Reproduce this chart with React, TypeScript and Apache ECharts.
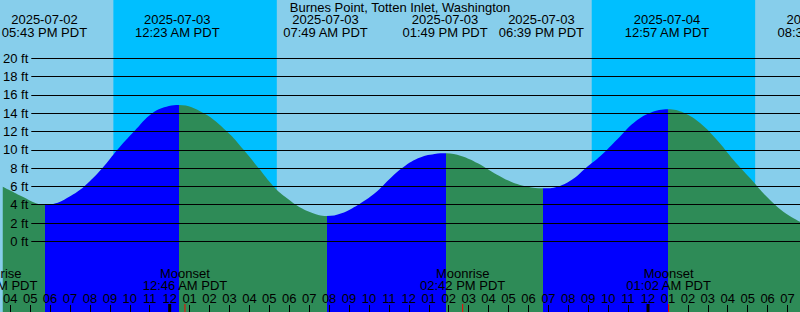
import React, { useEffect, useRef } from 'react';
import * as echarts from 'echarts';

const FONT = "'Liberation Sans', Arial, sans-serif";
const TITLE = 'Burnes Point, Totten Inlet, Washington';

const DAY = '#87CEEB';
const NIGHT = '#00BFFF';
const RISING = '#0000FF';
const FALLING = '#2E8B57';

// hours counted from 2025-07-02 00:00 PDT
const X_START = 15.625;
const X_END = 55.625;
const Y_TOP_FT = 26.372;
const Y_BOTTOM_FT = -7.727;

const tideHours = [15.625, 16.625, 17.29, 17.76,
  18.29, 18.96, 19.71, 20.625, 21.375, 22.21, 23.125, 23.96, 24.46,
  25.71, 26.875, 27.71, 28.46, 29.21, 29.79, 30.625, 31.46, 31.875,
  32.625, 33.46, 34.29, 35.125, 35.625, 36.46, 37.29, 37.875,
  38.625, 39.46, 40.29, 41.125, 41.96, 42.71,
  43.46, 44.29, 44.875, 45.625, 46.46, 47.29, 48.125, 49.01,
  49.79, 50.625, 51.46, 52.29, 53.125, 53.96, 54.79, 55.625];
const tideFeet = [5.97, 4.87, 4.15, 3.97,
  4.15, 4.87, 6.0, 8.0, 10.0, 12.0, 14.0, 14.79, 14.9,
  14.0, 12.0, 10.0, 8.0, 6.0, 4.87, 3.6, 2.87, 2.76,
  3.06, 4.0, 5.25, 7.0, 7.95, 9.07, 9.54, 9.62,
  9.32, 8.52, 7.43, 6.51, 5.97, 5.79,
  5.97, 6.89, 8.0, 9.35, 11.15, 12.96, 14.05, 14.43,
  14.05, 12.9, 11.07, 8.89, 6.89, 4.87, 3.24, 2.14];

const risingSpans = [[17.76, 24.46], [31.875, 37.875], [42.71, 49.01]];
const nightSpans = [[21.175, 29.375], [45.175, 53.375]];

const extremaHours = [17.717, 24.383, 31.817, 37.817, 42.65, 48.95, 56.617];
const extremaDates = ['2025-07-02', '2025-07-03', '2025-07-03', '2025-07-03', '2025-07-03', '2025-07-04', '2025-07-04'];
const extremaTimes = ['05:43 PM PDT', '12:23 AM PDT', '07:49 AM PDT', '01:49 PM PDT', '06:39 PM PDT', '12:57 AM PDT', '08:37 AM PDT'];

const moonHours = [15.225, 24.767, 38.7, 49.033];
const moonNames = ['Moonrise', 'Moonset', 'Moonrise', 'Moonset'];
const moonTimes = ['03:13 PM PDT', '12:46 AM PDT', '02:42 PM PDT', '01:02 AM PDT'];

const midnightHours = [24, 48];
const hourTicks = [16, 17, 18, 19, 20, 21, 22, 23, 24, 25, 26, 27, 28, 29, 30, 31, 32, 33, 34, 35,
  36, 37, 38, 39, 40, 41, 42, 43, 44, 45, 46, 47, 48, 49, 50, 51, 52, 53, 54, 55];

const markHour = [17.5];
const markFeet = [4];

function fmtHour(v: number) {
  const h = Math.round(v) % 12 || 12;
  return String(h).padStart(2, '0');
}

export default function App() {
  const ref = useRef<HTMLDivElement>(null);
  useEffect(() => {
    const chart = echarts.init(ref.current!, null, { renderer: 'svg' });
    const txt = { fill: '#000', fontSize: 13, fontFamily: FONT, align: 'center', verticalAlign: 'middle' };

    const pieces: any[] = [];
    let prev = X_START - 10;
    risingSpans.forEach(([a, b]) => {
      pieces.push({ gte: prev, lt: a, color: FALLING });
      pieces.push({ gte: a, lt: b, color: RISING });
      prev = b;
    });
    pieces.push({ gte: prev, lte: X_END + 10, color: FALLING });

    const option: any = {
      animation: false,
      backgroundColor: DAY,
      textStyle: { fontFamily: FONT },
      title: {
        text: TITLE, left: 'center', top: 1, padding: 0,
        textStyle: { fontSize: 13, lineHeight: 13, fontWeight: 'normal', color: '#000', fontFamily: FONT },
      },
      grid: [
        { left: 0, right: 0, top: 0, bottom: 0 },
        { left: 29.5, right: 0, top: 58.3, bottom: 70.7 },
      ],
      xAxis: [
        {
          type: 'value', gridIndex: 0, min: X_START, max: X_END, z: 5, position: 'bottom',
          axisLine: { show: false, onZero: false }, splitLine: { show: false },
          axisTick: { show: true, inside: true, length: 7, customValues: hourTicks, lineStyle: { color: '#000', width: 1 } },
          axisLabel: {
            show: true, inside: true, customValues: hourTicks, margin: 7, color: '#000',
            fontSize: 13, lineHeight: 13, fontFamily: FONT, formatter: fmtHour,
          },
        },
        {
          type: 'value', gridIndex: 1, min: X_START, max: X_END, show: false,
          axisLine: { show: false, onZero: false }, axisTick: { show: false }, axisLabel: { show: false }, splitLine: { show: false },
        },
      ],
      yAxis: [
        {
          type: 'value', gridIndex: 0, min: Y_BOTTOM_FT, max: Y_TOP_FT, show: false,
          axisLine: { show: false, onZero: false }, axisTick: { show: false }, axisLabel: { show: false }, splitLine: { show: false },
        },
        {
          type: 'value', gridIndex: 1, min: 0, max: 20, interval: 2, z: 3,
          axisLine: { show: false, onZero: false }, axisTick: { show: false },
          axisLabel: { color: '#000', fontSize: 13, fontFamily: FONT, margin: 3, formatter: '{value} ft' },
          splitLine: { show: true, lineStyle: { color: '#000', width: 1 } },
        },
      ],
      visualMap: {
        show: false, type: 'piecewise', dimension: 0, seriesIndex: 1, pieces,
      },
      series: [
        {
          type: 'custom', xAxisIndex: 0, yAxisIndex: 0, z: 1, silent: true,
          data: nightSpans.map(([a, b]) => [a, b]),
          renderItem: (params: any, api: any) => {
            const p0 = api.coord([api.value(0), Y_TOP_FT]);
            const p1 = api.coord([api.value(1), Y_BOTTOM_FT]);
            return { type: 'rect', shape: { x: p0[0], y: p0[1], width: p1[0] - p0[0], height: p1[1] - p0[1] }, style: { fill: NIGHT } };
          },
        },
        {
          type: 'line', xAxisIndex: 0, yAxisIndex: 0, z: 2, silent: true,
          data: tideHours.map((h, i) => [h, tideFeet[i]]),
          smooth: 0.4, showSymbol: false, symbol: 'none',
          lineStyle: { width: 0 },
          areaStyle: { opacity: 1, origin: 'start' },
        },
        {
          type: 'custom', xAxisIndex: 0, yAxisIndex: 0, z: 6, silent: true,
          data: [
            ...midnightHours.map((h) => [h, 0]),
            ...moonHours.map((h) => [h, 1]),
            ...markHour.map((h, i) => [h, 2, markFeet[i]]),
          ],
          renderItem: (params: any, api: any) => {
            const kind = api.value(1);
            if (kind === 2) {
              const p = api.coord([api.value(0), api.value(2)]);
              return { type: 'line', shape: { x1: p[0], y1: p[1] - 4, x2: p[0], y2: p[1] + 4 }, style: { stroke: '#000', lineWidth: 1 } };
            }
            const p = api.coord([api.value(0), Y_BOTTOM_FT]);
            return {
              type: 'line',
              shape: { x1: p[0], y1: p[1] - 8, x2: p[0], y2: p[1] },
              style: { stroke: kind === 0 ? '#000' : '#FF0000', lineWidth: kind === 0 ? 3 : 1 },
            };
          },
        },
        {
          type: 'custom', xAxisIndex: 0, yAxisIndex: 0, z: 6, silent: true,
          data: extremaHours.map((h) => [h, 0]),
          renderItem: (params: any, api: any) => {
            const i = params.dataIndex;
            const x = api.coord([api.value(0), 0])[0];
            return {
              type: 'group', children: [
                { type: 'text', x, y: 19.5, style: { ...txt, text: extremaDates[i] } },
                { type: 'text', x, y: 32, style: { ...txt, text: extremaTimes[i] } },
              ],
            };
          },
        },
        {
          type: 'custom', xAxisIndex: 0, yAxisIndex: 0, z: 6, silent: true,
          data: moonHours.map((h) => [h, 0]),
          renderItem: (params: any, api: any) => {
            const i = params.dataIndex;
            const x = api.coord([api.value(0), 0])[0];
            return {
              type: 'group', children: [
                { type: 'text', x, y: 273.7, style: { ...txt, text: moonNames[i] } },
                { type: 'text', x, y: 285.8, style: { ...txt, text: moonTimes[i] } },
              ],
            };
          },
        },
      ],
    };
    chart.setOption(option);
    return () => chart.dispose();
  }, []);
  return <div ref={ref} style={{ position: 'absolute', left: 0, top: 0, width: 800, height: 312 }} />;
}
